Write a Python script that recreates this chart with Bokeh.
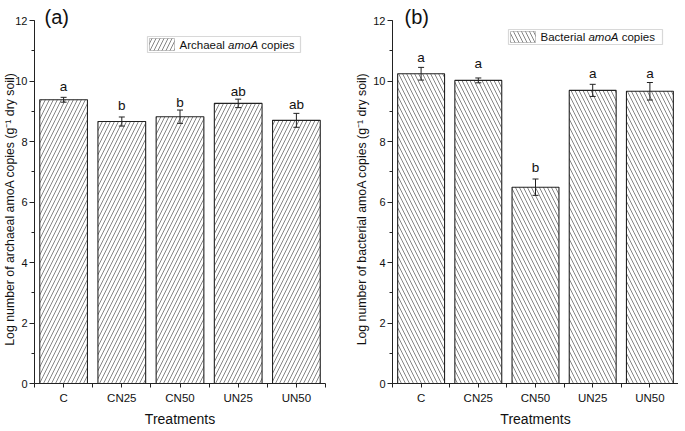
import math
from bokeh.plotting import figure
from bokeh.models import (ColumnDataSource, Whisker, FixedTicker, SingleIntervalTicker,
                          Label, BoxAnnotation, Range1d)
from bokeh.layouts import row
from bokeh.embed import file_html
from bokeh.resources import INLINE
from bokeh.core.properties import value

# ---------------- data ----------------
treatments = ["C", "CN25", "CN50", "UN25", "UN50"]
archaeal_mean = [9.38, 8.66, 8.82, 9.26, 8.70]
archaeal_err = [0.08, 0.15, 0.22, 0.14, 0.23]
archaeal_letters = ["a", "b", "b", "ab", "ab"]
archaeal_letter_y = [9.82, 9.19, 9.28, 9.66, 9.21]
bacterial_mean = [10.24, 10.02, 6.49, 9.69, 9.66]
bacterial_err = [0.21, 0.08, 0.27, 0.20, 0.29]
bacterial_letters = ["a", "a", "b", "a", "a"]
bacterial_letter_y = [10.79, 10.57, 7.15, 10.24, 10.24]
y_min, y_max, y_step = 0, 12, 2

FONT = "Liberation Sans"
# Arial / Liberation Sans advance widths (per 1000 em)
W = {' ': 278, 'A': 667, 'B': 667, 'a': 556, 'b': 556, 'c': 500, 'e': 556, 'h': 556,
     'i': 222, 'l': 222, 'm': 833, 'o': 556, 'p': 556, 'r': 333, 's': 500, 't': 278}


def tw(s, size):
    return sum(W.get(c, 556) for c in s) * size / 1000.0


AXIS_H = 363      # pixel height of the 0..12 axis
HEADROOM = 20     # free space above the axis top (room for the panel tag)
BOTTOM = 40
HATCH_COLOR = "#666666"


def make_panel(mean, err, letters, letter_y, hatch, tag, organism, legend_word,
               left, frame_w, right, ylab_standoff, leg, tag_x):
    n = len(treatments)
    xs = list(range(1, n + 1))
    src = ColumnDataSource(dict(
        x=xs, top=mean, upper=[m + e for m, e in zip(mean, err)],
        lower=[m - e for m, e in zip(mean, err)], letters=letters, ly=letter_y))

    frame_h = AXIS_H + HEADROOM
    y_end = y_max + HEADROOM * (y_max - y_min) / AXIS_H
    p = figure(frame_width=frame_w, frame_height=frame_h,
               min_border_left=left, min_border_right=right,
               min_border_top=0, min_border_bottom=BOTTOM,
               x_range=Range1d(0.5, n + 0.5), y_range=Range1d(y_min, y_end),
               output_backend="svg", toolbar_location=None)
    p.outline_line_color = None
    p.grid.visible = False
    p.background_fill_color = "white"
    p.border_fill_color = "white"

    p.vbar(x="x", top="top", width=0.82, bottom=0, source=src,
           fill_color="white", line_color="#222222", line_width=1.1,
           hatch_pattern=hatch, hatch_color=HATCH_COLOR, hatch_scale=8, hatch_weight=0.8)

    wh = Whisker(source=src, base="x", upper="upper", lower="lower",
                 line_color="#222222", line_width=1, level="annotation")
    wh.upper_head.size = 6
    wh.lower_head.size = 6
    wh.upper_head.line_color = "#222222"
    wh.lower_head.line_color = "#222222"
    p.add_layout(wh)

    p.text(x="x", y="ly", text="letters", source=src, text_align="center",
           text_baseline="alphabetic", text_font=value(FONT), text_font_size="13.5px",
           text_color="#111111")

    # axes
    xa = p.xaxis[0]
    xa.ticker = FixedTicker(ticks=xs, minor_ticks=[x - 0.5 for x in xs] + [n + 0.5])
    xa.major_label_overrides = {x: t for x, t in zip(xs, treatments)}
    xa.axis_label = "Treatments"
    xa.axis_label_text_font = FONT
    xa.axis_label_text_font_style = "normal"
    xa.axis_label_text_font_size = "14px"
    xa.axis_label_text_color = "#111111"
    xa.axis_label_standoff = 4
    xa.major_label_text_font = FONT
    xa.major_label_text_font_size = "11.5px"
    xa.major_label_text_color = "#111111"
    xa.major_label_standoff = 4
    xa.major_tick_out = 4
    xa.major_tick_in = 0
    xa.minor_tick_out = 4
    xa.minor_tick_in = 0

    ya = p.yaxis[0]
    ya.ticker = SingleIntervalTicker(interval=y_step, num_minor_ticks=2)
    ya.bounds = (y_min, y_max)
    # trailing no-break spaces shift the centred label down to where the reference has it
    ya.axis_label = ("Log number of %s amoA copies (g\u207b\u00b9 dry soil)" % organism
                     + "\u00a0" * 10)
    ya.axis_label_text_font = FONT
    ya.axis_label_text_font_style = "normal"
    ya.axis_label_text_font_size = "12.3px"
    ya.axis_label_text_color = "#111111"
    ya.axis_label_standoff = ylab_standoff
    ya.major_label_text_font = FONT
    ya.major_label_text_font_size = "11px"
    ya.major_label_text_color = "#111111"
    ya.major_label_standoff = 2
    ya.major_tick_out = 5
    ya.major_tick_in = 0
    ya.minor_tick_out = 3
    ya.minor_tick_in = 0

    for ax in (xa, ya):
        ax.axis_line_color = "#222222"
        ax.major_tick_line_color = "#222222"
        ax.minor_tick_line_color = "#222222"

    # panel tag
    p.add_layout(Label(x=tag_x, y=frame_h - 16.5, x_units="screen", y_units="screen",
                       text=tag, text_align="left", text_baseline="alphabetic",
                       text_font=FONT, text_font_size="20px", text_color="#111111"))

    # legend (drawn manually so that the gene name can be italic)
    lx0, lx1, ly0, ly1 = leg
    p.add_layout(BoxAnnotation(left=lx0, right=lx1, bottom=ly0, top=ly1,
                               left_units="screen", right_units="screen",
                               bottom_units="screen", top_units="screen",
                               fill_color="white", fill_alpha=1,
                               line_color="#7f7f7f", line_width=1.2))
    p.add_layout(BoxAnnotation(left=lx0 + 2, right=lx0 + 27, bottom=ly0 + 2, top=ly1 - 2,
                               left_units="screen", right_units="screen",
                               bottom_units="screen", top_units="screen",
                               fill_color="white", fill_alpha=1,
                               hatch_pattern=hatch, hatch_color=HATCH_COLOR,
                               hatch_scale=8, hatch_weight=0.8,
                               line_color="#444444", line_width=1))
    lsz = 11.5
    tx = lx0 + 32
    ty = (ly0 + ly1) / 2.0
    for text, style in [(legend_word, "normal"), ("amoA", "italic"), ("copies", "normal")]:
        p.add_layout(Label(x=tx, y=ty, x_units="screen", y_units="screen", text=text,
                           text_align="left", text_baseline="middle", text_font=FONT,
                           text_font_size="%spx" % lsz, text_font_style=style,
                           text_color="#111111"))
        tx += tw(text, lsz) + tw(" ", lsz)
    return p


pa = make_panel(archaeal_mean, archaeal_err, archaeal_letters, archaeal_letter_y, "/",
                "(a)", "archaeal", "Archaeal", left=33, frame_w=291, right=22,
                ylab_standoff=-5, leg=(113, 266, 331, 347), tag_x=10)
pb = make_panel(bacterial_mean, bacterial_err, bacterial_letters, bacterial_letter_y, "\\",
                "(b)", "bacterial", "Bacterial", left=45, frame_w=286, right=0,
                ylab_standoff=1, leg=(116, 270, 339, 354), tag_x=12)

layout = row(pa, pb)
open("out.html", "w").write(file_html(layout, INLINE))
